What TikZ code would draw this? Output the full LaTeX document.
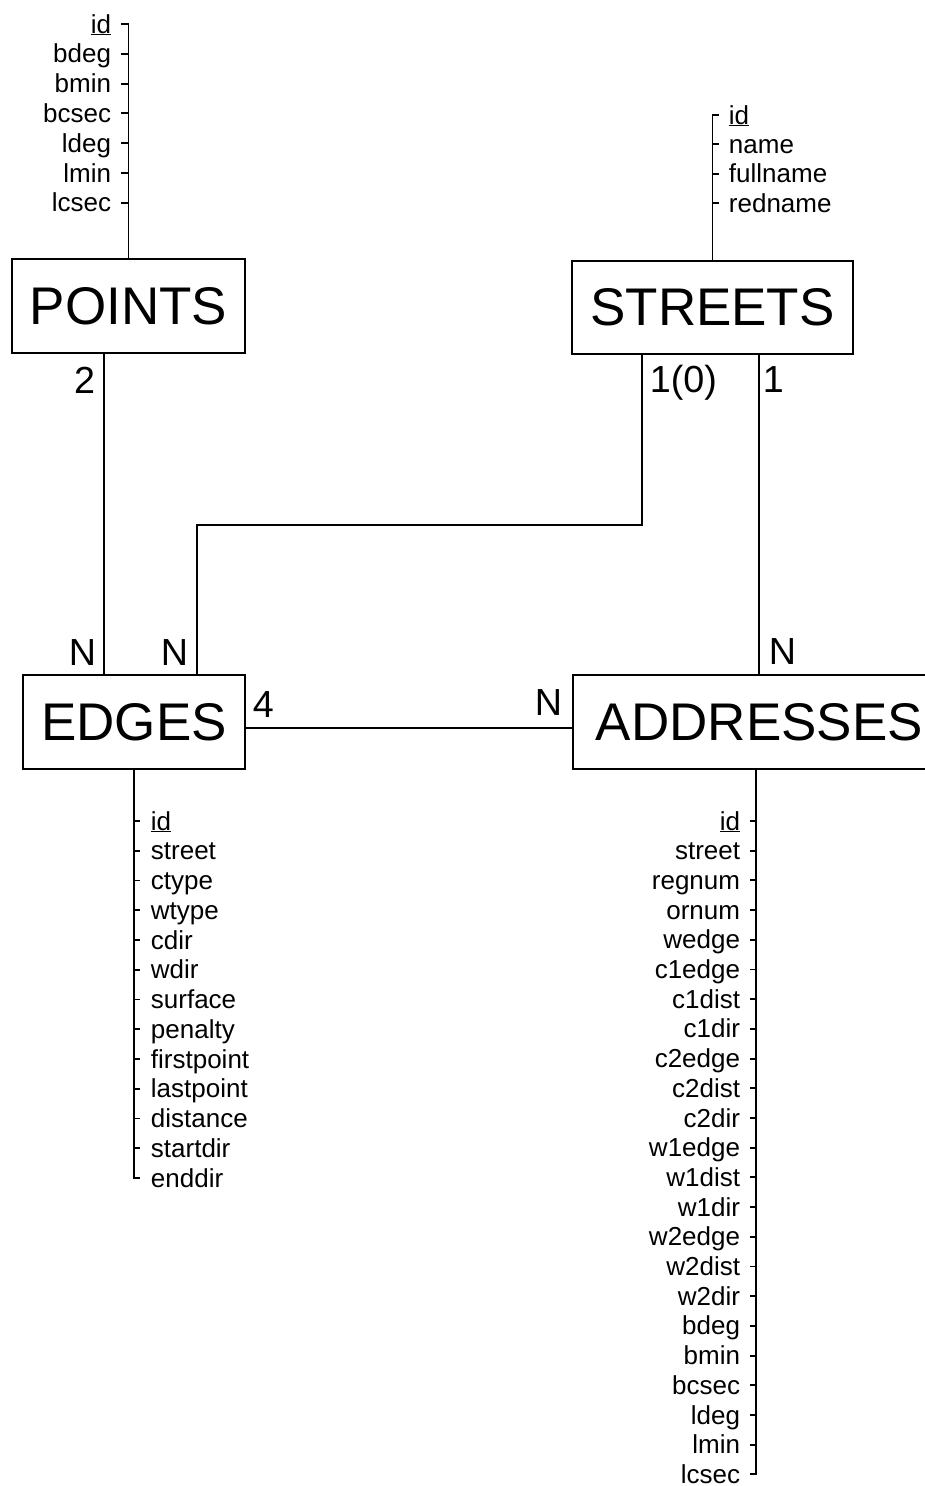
\documentclass[tikz,border=0pt]{standalone}
\usepackage{fontspec}
\setmainfont{Liberation Sans}
\begin{document}
\begin{tikzpicture}[x=1pt,y=-1pt,line width=1.9pt,
  entity/.style={draw,line width=1.9pt,inner sep=0pt,font=\fontsize{53}{60}\selectfont},
  attrL/.style={anchor=base west,inner sep=0pt,font=\fontsize{26}{30}\selectfont},
  attrR/.style={anchor=base east,inner sep=0pt,font=\fontsize{26}{30}\selectfont},
  cardL/.style={anchor=base west,inner sep=0pt,font=\fontsize{37.7}{42}\selectfont},
  cardR/.style={anchor=base east,inner sep=0pt,font=\fontsize{37.7}{42}\selectfont}]
\clip (0,0) rectangle (925,1486);
\useasboundingbox (0,0) rectangle (925,1486);

% entities
\node[entity,minimum width=233pt,minimum height=94pt] (points) at (128.5,306) {POINTS};
\node[entity,minimum width=281pt,minimum height=93pt] (streets) at (712.5,307.5) {STREETS};
\node[entity,minimum width=222pt,minimum height=94pt] (edges) at (134,722) {EDGES};
\node[entity,anchor=west,inner xsep=23pt,minimum height=94pt] (addresses) at (572,722) {ADDRESSES};

% POINTS attributes
\coordinate (ptop) at (121,24);
\draw (points.north) |- (ptop);
\node[attrR] (pa0) at (112,33) {\underline{id}};
\foreach \t [count=\i] in {bdeg,bmin,bcsec,ldeg,lmin,lcsec} {
  \draw (121,24+29.8*\i) -- (128.5,24+29.8*\i);
  \node[attrR] (pa\i) at (112,33+29.8*\i) {\t};
}

% STREETS attributes
\coordinate (stop) at (719,115);
\draw (streets.north) |- (stop);
\node[attrL] (sa0) at (728,124) {\underline{id}};
\foreach \t [count=\i] in {name,fullname,redname} {
  \draw (712.5,115+29.4*\i) -- (719,115+29.4*\i);
  \node[attrL] (sa\i) at (728,124+29.4*\i) {\t};
}

% EDGES attributes
\coordinate (ebot) at (140,1178);
\draw (edges.south) |- (ebot);
\draw (134,821) -- (140,821);
\node[attrL] (ea0) at (150,830) {\underline{id}};
\foreach \t [count=\i] in {street,ctype,wtype,cdir,wdir,surface,penalty,firstpoint,lastpoint,distance,startdir} {
  \draw (134,821+29.75*\i) -- (140,821+29.75*\i);
  \node[attrL] (ea\i) at (150,830+29.75*\i) {\t};
}
\node[attrL] (ea12) at (150,830+29.75*12) {enddir};

% ADDRESSES attributes
\coordinate (ax) at (756,0);
\coordinate (abot) at (750,1474.4);
\draw (addresses.south -| ax) |- (abot);
\draw (750,821) -- (756,821);
\node[attrR] (aa0) at (741,830) {\underline{id}};
\foreach \t [count=\i] in {street,regnum,ornum,wedge,c1edge,c1dist,c1dir,c2edge,c2dist,c2dir,w1edge,w1dist,w1dir,w2edge,w2dist,w2dir,bdeg,bmin,bcsec,ldeg,lmin} {
  \draw (750,821+29.7*\i) -- (756,821+29.7*\i);
  \node[attrR] (aa\i) at (741,830+29.7*\i) {\t};
}
\node[attrR] (aa22) at (741,830+29.7*22) {lcsec};

% relationships
\coordinate (xa) at (104,0);
\draw (points.south -| xa) -- (edges.north -| xa);
\coordinate (xb) at (642,0);
\coordinate (xc) at (197,525);
\draw (streets.south -| xb) |- (xc) -- (edges.north -| xc);
\coordinate (xd) at (759,0);
\draw (streets.south -| xd) -- (addresses.north -| xd);
\coordinate (yr) at (0,728);
\draw (edges.east |- yr) -- (addresses.west |- yr);

% cardinalities
\node[cardR] (c2) at (96,393) {2};
\node[cardL] (c10) at (649,392) {1(0)};
\node[cardL] (c1) at (762,392) {1};
\node[cardR] (n1) at (97,665) {N};
\node[cardR] (n2) at (189,665) {N};
\node[cardL] (n3) at (768,664) {N};
\node[cardR] (n4) at (563,715) {N};
\node[cardL] (c4) at (252,717) {4};
\end{tikzpicture}
\end{document}
